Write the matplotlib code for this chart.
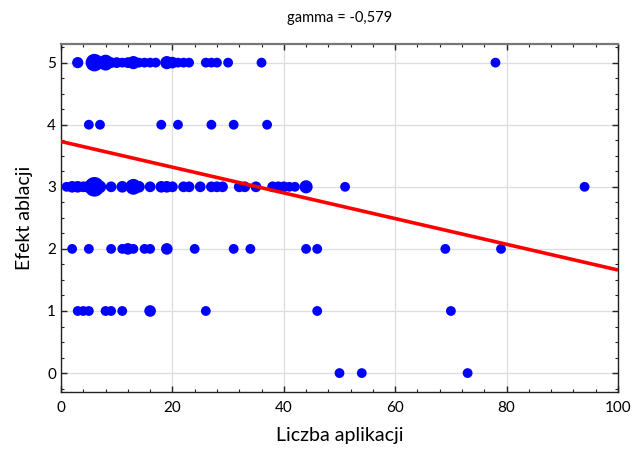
import matplotlib
matplotlib.use("Agg")
import matplotlib.pyplot as plt
from matplotlib.ticker import MultipleLocator

plt.rcParams['font.family'] = ['Lato', 'DejaVu Sans']

# data: (x, y, weight)
x5 = [3, 6, 8, 9, 10, 11, 12, 13, 14, 15, 16, 17, 19, 20, 21, 22, 23, 26, 27, 28, 30, 36, 78]
w5 = [1.3, 3.2, 2.6, 1.2, 1.2, 1, 1.2, 1.8, 1, 1, 1, 1, 1.8, 1.4, 1, 1, 1, 1, 1, 1, 1, 1, 1]
x4 = [5, 7, 18, 21, 27, 31, 37]
w4 = [1, 1, 1, 1, 1, 1, 1]
x3 = [1, 2, 3, 4, 5, 6, 7, 9, 11, 13, 14, 16, 18, 19, 20, 22, 23, 25, 27, 28, 29,
      32, 33, 35, 38, 39, 40, 41, 42, 44, 51, 94]
w3 = [1, 1.4, 1.4, 1.2, 1.6, 4.0, 1.6, 1.2, 1.4, 2.6, 1.4, 1.2, 1.4, 1.4, 1.2, 1.2, 1.2,
      1.2, 1.2, 1.2, 1.2, 1.2, 1.2, 1.2, 1.2, 1.2, 1.2, 1, 1, 1.8, 1, 1]
x2 = [2, 5, 9, 11, 12, 13, 15, 16, 19, 24, 31, 34, 44, 46, 69, 79]
w2 = [1, 1, 1, 1, 1.4, 1, 1, 1, 1.4, 1, 1, 1, 1, 1, 1, 1]
x1 = [3, 4, 5, 8, 9, 11, 16, 26, 46, 70]
w1 = [1, 1, 1, 1, 1, 1, 1.4, 1, 1, 1]
x0 = [50, 54, 73]
w0 = [1, 1, 1]

line_x = [0, 100]
line_y = [3.73, 1.66]

title = "gamma = -0,579"
xlabel = "Liczba aplikacji"
ylabel = "Efekt ablacji"

fig = plt.figure(figsize=(6.34, 4.57), dpi=100)
ax = fig.add_axes([61/634, 1-391.7/457, (618-61)/634, (391.7-44)/457])

base = 50
rows = [(x5, w5, 5), (x4, w4, 4), (x3, w3, 3), (x2, w2, 2), (x1, w1, 1), (x0, w0, 0)]
for xs, ws, yv in rows:
    ax.scatter(xs, [yv]*len(xs), s=[base*w for w in ws], color='#0000ff',
               edgecolors='none', zorder=3)

ax.plot(line_x, line_y, color='#ff0000', lw=2.6, zorder=4, solid_capstyle='butt')

ax.set_xlim(0, 100)
ax.set_ylim(-0.3, 5.3)
ax.xaxis.set_major_locator(MultipleLocator(20))
ax.xaxis.set_minor_locator(MultipleLocator(4))
ax.yaxis.set_major_locator(MultipleLocator(1))
ax.yaxis.set_minor_locator(MultipleLocator(0.25))
ax.grid(True, which='major', color='#dddddd', lw=0.9, zorder=0)
ax.set_axisbelow(True)
ax.tick_params(which='both', direction='in', top=True, right=True, labelsize=11,
               color='#222222')
ax.tick_params(which='major', length=4, width=1)
ax.tick_params(which='minor', length=2.5, width=0.8)
ax.tick_params(axis='x', pad=7)
for side in ['left', 'bottom', 'right']:
    ax.spines[side].set_color('#222222')
    ax.spines[side].set_linewidth(1.0)
ax.spines['top'].set_color('#777777')
ax.spines['top'].set_linewidth(1.6)

ax.set_title(title, fontsize=10.5, pad=16)
ax.set_xlabel(xlabel, fontsize=14, labelpad=8)
ax.set_ylabel(ylabel, fontsize=14, labelpad=10)

fig.savefig("out.png", dpi=100)
